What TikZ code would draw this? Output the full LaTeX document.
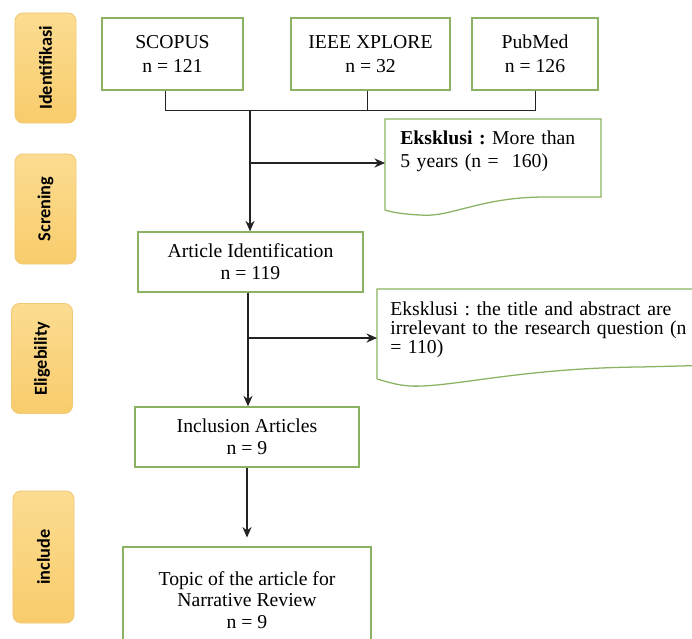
\documentclass[tikz,border=0pt]{standalone}
\usepackage{fontspec}
\setmainfont{Liberation Serif}
\newfontfamily\stagefont{Carlito}
\usetikzlibrary{arrows.meta}
\definecolor{boxgreen}{RGB}{138,178,98}
\definecolor{stagetop}{RGB}{252,220,145}
\definecolor{stagebottom}{RGB}{248,204,108}
\definecolor{stageline}{RGB}{240,200,120}
\definecolor{linkgray}{RGB}{35,35,35}
\tikzset{
	flowbox/.style={draw=boxgreen,line width=0.9pt,align=center,inner sep=0pt,font=\fontsize{14}{15.5}\selectfont},
	srcbox/.style={flowbox,minimum height=1.8cm,font=\fontsize{14}{17}\selectfont},
	docbox/.style={anchor=north west,align=left,inner ysep=0.3cm,font=\frenchspacing\fontsize{14}{16.3}\selectfont},
	docline/.style={draw=boxgreen,line width=0.9pt},
	stagebox/.style={rotate=90,draw=stageline,line width=0.6pt,top color=stagetop,bottom color=stagebottom,rounded corners=0.2cm,minimum width=2.75cm,minimum height=1.525cm,inner sep=0pt,font=\stagefont\bfseries\fontsize{13}{15}\selectfont},
	link/.style={draw=linkgray,line width=0.9pt},
	joinline/.style={draw=linkgray,line width=0.6pt}
}
\begin{document}
\begin{tikzpicture}[x=0.025cm,y=-0.025cm,>={Stealth[length=7.5pt,width=6.5pt]}]
	\useasboundingbox (0,0) rectangle (692,639);
	\clip (0,0) rectangle (692,639);
	\node[stagebox] (s1) at (45.5,68) {Identifikasi};
	\node[stagebox] (s2) at (45.5,209) {Screning};
	\node[stagebox] (s3) at (42,358.5) {Eligebility};
	\node[stagebox,minimum width=3.3cm] (s4) at (43.5,557) {include};
	\node[srcbox,minimum width=3.525cm] (scopus) at (172.5,54) {SCOPUS\\n = 121};
	\node[srcbox,minimum width=3.975cm] (ieee) at (370.5,54) {IEEE XPLORE\\n = 32};
	\node[srcbox,minimum width=3.15cm] (pubmed) at (535,54) {PubMed\\n = 126};
	\node[flowbox,minimum width=5.625cm,minimum height=1.5cm] (artid) at (250.5,262) {Article Identification\\n = 119};
	\node[flowbox,minimum width=5.6cm,minimum height=1.5cm] (incl) at (247,437) {Inclusion Articles\\n = 9};
	\node[flowbox,minimum width=6.2cm,minimum height=2.65cm] (topic) at (247,600) {Topic of the article for\\Narrative Review\\n = 9};
	\node[docbox,inner xsep=0.375cm,text width=4.65cm] (ex1) at (385,119) {\textbf{Eksklusi :} More than\\5 years (n =\ \ 160)};
	\node[docbox,inner xsep=0.325cm,inner ysep=0.32cm,text width=8.5cm,font=\frenchspacing\fontsize{14}{13.5}\selectfont] (ex2) at (377,289) {Eksklusi : the title and abstract are\\irrelevant to the research question (n\\= 110)};
	\draw[docline] (385,210) -- (385,119) -- (601,119) -- (601,197) -- (545,197) .. controls (480,197) and (450,218) .. (420,215) .. controls (400,214) and (392,212) .. (385,210);
	\draw[docline] (377,379) -- (377,289) -- (720,289) -- (720,365) -- (640,367) .. controls (520,368) and (450,388) .. (410,386) .. controls (395,385) and (385,381) .. (377,379);
	\coordinate (j0) at (250,110);
	\coordinate (b1) at (250,163);
	\coordinate (b2) at (248,338);
	\draw[joinline] (scopus.south) ++(-7.5,0) |- (j0);
	\draw[joinline] (ieee.south) ++(-3.5,0) -- ++(0,20);
	\draw[joinline] (pubmed.south) |- (j0);
	\draw[link,->] (j0) -- (artid.north -| j0);
	\draw[link,->] (b1) -- (b1 -| ex1.west);
	\draw[link] (artid.south -| b2) -- (b2);
	\draw[link,->] (b2) -- (incl.north -| b2);
	\draw[link,->] (b2) -- (b2 -| ex2.west);
	\draw[link,->,shorten >=0.22cm] (incl.south) -- (topic.north);
\end{tikzpicture}
\end{document}
